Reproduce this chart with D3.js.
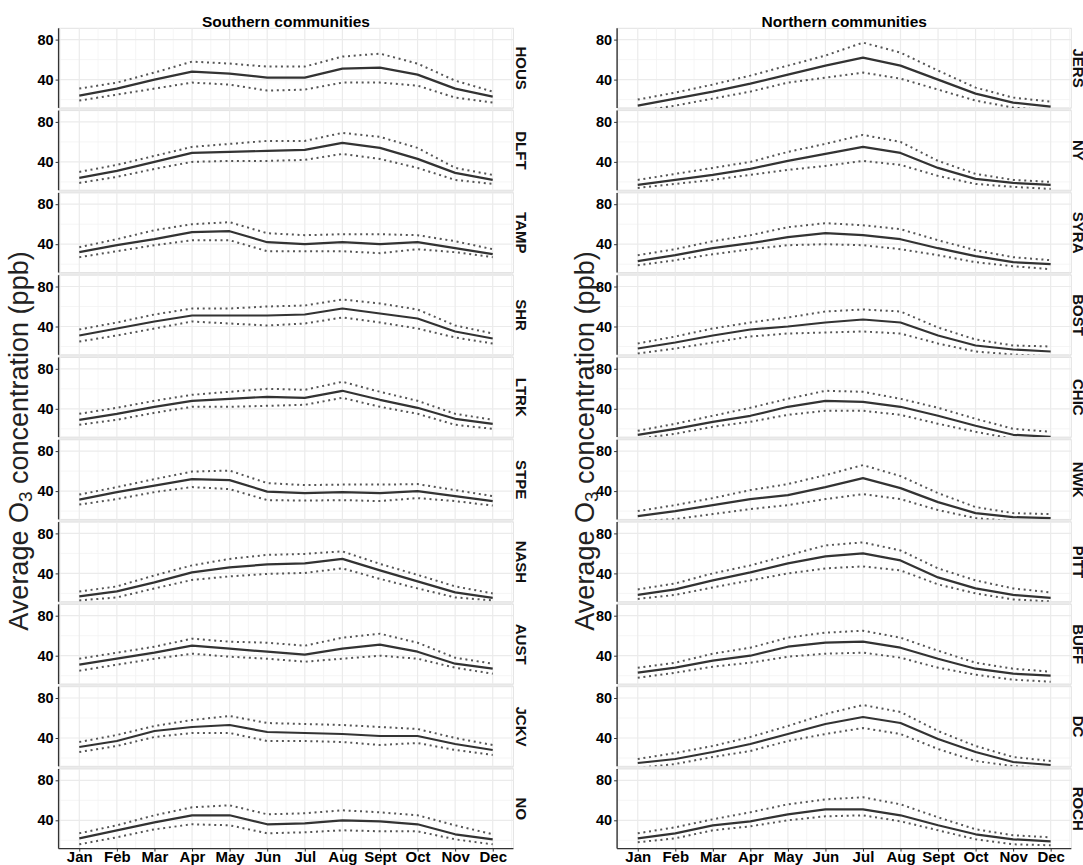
<!DOCTYPE html>
<html><head><meta charset="utf-8">
<script src="https://cdn.jsdelivr.net/npm/d3@7"></script>
<style>html,body{margin:0;padding:0;background:#fff;}svg{display:block;font-family:"Liberation Sans",Arial,sans-serif;}</style>
</head><body><svg id="chart" width="1083" height="865"></svg>
<script>
const months = ["Jan","Feb","Mar","Apr","May","Jun","Jul","Aug","Sept","Oct","Nov","Dec"];
const yTicks = [40, 80];
const southSites = ["HOUS","DLFT","TAMP","SHR","LTRK","STPE","NASH","AUST","JCKV","NO"];
const northSites = ["JERS","NY","SYRA","BOST","CHIC","NWK","PITT","BUFF","DC","ROCH"];
const columnTitles = ["Southern communities","Northern communities"];

// Southern communities: mean, upper and lower bounds (ppb)
const HOUS_mean = [24,31,40,48,46,42,42,51,52,45,31,23];
const HOUS_hi   = [31,37,47,58,56,53,53,63,66,56,39,28];
const HOUS_lo   = [19,25,31,37,35,29,30,37,37,34,22,17];
const DLFT_mean = [24,31,40,49,50,51,52,59,54,43,29,22];
const DLFT_hi   = [30,37,46,55,58,61,61,69,65,54,34,27];
const DLFT_lo   = [19,25,33,40,41,41,42,48,43,34,22,18];
const TAMP_mean = [32,39,45,52,53,42,40,42,40,42,36,30];
const TAMP_hi   = [37,45,54,60,62,51,49,50,50,49,43,35];
const TAMP_lo   = [27,33,39,44,44,33,33,33,31,35,32,27];
const SHR_mean  = [31,38,45,51,51,51,52,58,53,48,35,28];
const SHR_hi    = [37,44,52,58,58,60,61,67,63,57,41,33];
const SHR_lo    = [25,31,38,45,43,41,43,49,44,38,29,23];
const LTRK_mean = [29,35,42,48,50,52,51,58,49,41,30,25];
const LTRK_hi   = [35,41,48,54,57,60,59,67,57,48,35,29];
const LTRK_lo   = [24,29,36,42,42,43,44,51,42,35,24,20];
const STPE_mean = [31.5,39,45.5,52,51,39.5,38,39,38,40,35,30];
const STPE_hi   = [36.5,44,52,59.5,60.5,48,46,46.5,46.5,47,41,35];
const STPE_lo   = [26.5,32,39,44,42,31,30.5,31,30,33,30,25.5];
const NASH_mean = [17,22,31,41,46,49,50,54.5,43,32,21,15.5];
const NASH_hi   = [22,27,38,48,54.5,58.5,59.5,62,49.5,38.5,27,20];
const NASH_lo   = [13,16,25,33.5,37,39.5,40.5,45,34.5,25,16,13];
const AUST_mean = [31,37,43,50,47,44,41,47,51,44,32,27];
const AUST_hi   = [37,43,49,57,54,53,50,58,62,53,38,32];
const AUST_lo   = [25,31,37,42,39,37,34,37,40,37,28,22];
const JCKV_mean = [31,37,47,51,53,46,45,44,42,42,34,28];
const JCKV_hi   = [36,43,52,58,62,55,54,53,51,49,40,33];
const JCKV_lo   = [26,32,41,45,45,37,37,36,33,35,28,23];
const NO_mean   = [22,30,38,45,45,36,37,40,39,36,26,21];
const NO_hi     = [27,35,45,53,55,46,47,50,48,45,35,26];
const NO_lo     = [16,23,31,36,35,27,28,30,29,29,21,16];

// Northern communities
const JERS_mean = [14,21,28,36,45,54,62,54,40,26,17,13];
const JERS_hi   = [20,27,35,44,54,64,77,67,49,32,22,18];
const JERS_lo   = [8,14,21,28,37,42,47,41,30,19,12,9];
const NY_mean   = [17,22,27,33,41,48,55,49,34,23,19,17];
const NY_hi     = [22,28,34,40,50,58,67,60,41,28,22,20];
const NY_lo     = [14,18,22,27,32,36,41,37,26,18,15,13];
const SYRA_mean = [23,29,36,41,47,51,49,45,36,28,22,20];
const SYRA_hi   = [29,35,43,49,57,61,59,55,44,34,27,24];
const SYRA_lo   = [19,24,30,35,39,40,39,35,29,22,18,15];
const BOST_mean = [18,24,31,37,40,44,47,44,31,21,17,15];
const BOST_hi   = [23,30,38,44,49,55,57,55,39,27,21,20];
const BOST_lo   = [13,18,24,30,33,34,35,33,23,15,12,10];
const CHIC_mean = [14,20,27,33,42,48,47,42,33,23,14,12];
const CHIC_hi   = [18,25,33,41,50,58,57,50,41,30,20,17];
const CHIC_lo   = [10,15,22,27,34,38,38,34,25,17,10,8];
const NWK_mean  = [15,20,26,32,36,44,53,43,29,18,14,13];
const NWK_hi    = [20,26,33,41,47,56,66,55,38,24,18,17];
const NWK_lo    = [10,12,17,22,26,32,37,32,21,13,10,9];
const PITT_mean = [18.5,24,33,41,50,57,60,53,36,25,18.5,15.5];
const PITT_hi   = [24,30,40,48,58,68,71,63,45,33,25,21];
const PITT_lo   = [14.5,18.5,26,33,40,45,47,43,29,20,14,12];
const BUFF_mean = [23,28,35,40,49,53,54,48,37,27,22,20];
const BUFF_hi   = [28,33,42,48,58,63,65,58,45,33,27,24];
const BUFF_lo   = [18,23,29,33,39,42,43,38,28,21,16,14];
const DC_mean   = [15,19,26,34,44,54,61,55,39,26,16,13];
const DC_hi     = [19,25,32,41,52,64,73,66,47,32,21,17];
const DC_lo     = [10,14,21,27,37,44,50,44,29,17,12,9];
const ROCH_mean = [22,27,35,39,46,51,51,45,35,26,21,19];
const ROCH_hi   = [27,33,41,48,56,61,63,56,43,31,25,23];
const ROCH_lo   = [18,22,30,34,40,44,45,39,30,21,16,15];

const siteData = {
  HOUS:[HOUS_mean,HOUS_hi,HOUS_lo], DLFT:[DLFT_mean,DLFT_hi,DLFT_lo], TAMP:[TAMP_mean,TAMP_hi,TAMP_lo],
  SHR:[SHR_mean,SHR_hi,SHR_lo], LTRK:[LTRK_mean,LTRK_hi,LTRK_lo], STPE:[STPE_mean,STPE_hi,STPE_lo],
  NASH:[NASH_mean,NASH_hi,NASH_lo], AUST:[AUST_mean,AUST_hi,AUST_lo], JCKV:[JCKV_mean,JCKV_hi,JCKV_lo],
  NO:[NO_mean,NO_hi,NO_lo], JERS:[JERS_mean,JERS_hi,JERS_lo], NY:[NY_mean,NY_hi,NY_lo],
  SYRA:[SYRA_mean,SYRA_hi,SYRA_lo], BOST:[BOST_mean,BOST_hi,BOST_lo], CHIC:[CHIC_mean,CHIC_hi,CHIC_lo],
  NWK:[NWK_mean,NWK_hi,NWK_lo], PITT:[PITT_mean,PITT_hi,PITT_lo], BUFF:[BUFF_mean,BUFF_hi,BUFF_lo],
  DC:[DC_mean,DC_hi,DC_lo], ROCH:[ROCH_mean,ROCH_hi,ROCH_lo]
};

const svg = d3.select("#chart");
const columns = [
  {sites: southSites, left: 58.6, right: 513.4, stripX: 521, yTitleX: 19, title: columnTitles[0]},
  {sites: northSites, left: 617.1, right: 1071.3, stripX: 1078.5, yTitleX: 585, title: columnTitles[1]}
];
const top0 = 28.3, pitch = 82.3, panelH = 79.6;
const y = d3.scaleLinear().domain([11.7, 91.3]).range([panelH, 0]);

columns.forEach((col, ci) => {
  const W = col.right - col.left;
  const x = d3.scaleLinear().domain([0.45, 12.55]).range([0, W]);
  const g = svg.append("g").attr("transform", `translate(${col.left},0)`);

  g.append("rect").attr("x", 0).attr("y", top0).attr("width", W)
    .attr("height", pitch * 9 + panelH).attr("fill", "#ebebeb");

  col.sites.forEach((site, ri) => {
    const py = top0 + ri * pitch;
    const p = g.append("g").attr("transform", `translate(0,${py})`);
    const clipId = `clip-${ci}-${ri}`;
    p.append("clipPath").attr("id", clipId).append("rect")
      .attr("x", 0).attr("y", 0).attr("width", W).attr("height", panelH);
    p.append("rect").attr("width", W).attr("height", panelH)
      .attr("fill", "#fff").attr("stroke", "#e3e3e3").attr("stroke-width", 1);

    const minorX = d3.range(0.5, 13, 1);
    p.selectAll(".mgx").data(minorX).join("line")
      .attr("x1", d => x(d)).attr("x2", d => x(d)).attr("y1", 0).attr("y2", panelH)
      .attr("stroke", "#f2f2f2").attr("stroke-width", 0.8);
    p.selectAll(".mgy").data([20, 60]).join("line")
      .attr("x1", 0).attr("x2", W).attr("y1", d => y(d)).attr("y2", d => y(d))
      .attr("stroke", "#f2f2f2").attr("stroke-width", 0.8);
    p.selectAll(".gx").data(d3.range(1, 13)).join("line")
      .attr("x1", d => x(d)).attr("x2", d => x(d)).attr("y1", 0).attr("y2", panelH)
      .attr("stroke", "#ebebeb").attr("stroke-width", 1.2);
    p.selectAll(".gy").data(yTicks).join("line")
      .attr("x1", 0).attr("x2", W).attr("y1", d => y(d)).attr("y2", d => y(d))
      .attr("stroke", "#ebebeb").attr("stroke-width", 1.2);

    const [mean, hi, lo] = siteData[site];
    const line = d3.line().x((d, i) => x(i + 1)).y(d => y(d));
    const lines = p.append("g").attr("clip-path", `url(#${clipId})`);
    [hi, lo].forEach(arr => {
      lines.append("path").datum(arr).attr("d", line).attr("fill", "none")
        .attr("stroke", "#555").attr("stroke-width", 2)
        .attr("stroke-dasharray", "2,3.7");
    });
    lines.append("path").datum(mean).attr("d", line).attr("fill", "none")
      .attr("stroke", "#333").attr("stroke-width", 2.2).attr("stroke-linejoin", "round");

    const ya = p.append("g").call(d3.axisLeft(y).tickValues(yTicks).tickSize(3).tickPadding(2));
    ya.select(".domain").remove();
    ya.append("line").attr("x1", 0).attr("x2", 0).attr("y1", 0).attr("y2", panelH)
      .attr("stroke", "#333").attr("stroke-width", 1.4);
    ya.selectAll(".tick line").attr("stroke", "#333");
    ya.selectAll(".tick text").attr("fill", "#000").attr("font-size", 14.5)
      .attr("font-weight", "bold").attr("font-family", "Liberation Sans, Arial, sans-serif");

    svg.append("text")
      .attr("transform", `translate(${col.stripX},${py + panelH / 2}) rotate(90)`)
      .attr("text-anchor", "middle").attr("dominant-baseline", "central")
      .attr("font-size", 15).attr("font-weight", "bold").attr("fill", "#111")
      .text(site);

    if (ri === col.sites.length - 1) {
      const xa = p.append("g").attr("transform", `translate(0,${panelH})`)
        .call(d3.axisBottom(x).tickValues(d3.range(1, 13)).tickFormat(d => months[d - 1]).tickSize(3));
      xa.select(".domain").remove();
      xa.append("line").attr("x1", 0).attr("x2", W).attr("y1", 0).attr("y2", 0)
        .attr("stroke", "#333").attr("stroke-width", 1.4);
      xa.selectAll(".tick line").attr("stroke", "#333");
      xa.selectAll(".tick text").attr("fill", "#000").attr("font-size", 15)
        .attr("font-weight", "bold").attr("font-family", "Liberation Sans, Arial, sans-serif")
        .attr("y", 0).attr("dy", "0").attr("transform", "translate(0,13.6)");
    }
  });

  svg.append("text").attr("x", col.left + W / 2).attr("y", 26.5)
    .attr("text-anchor", "middle").attr("font-size", 15.5).attr("font-weight", "bold")
    .attr("fill", "#000").text(col.title);

  const yt = svg.append("text")
    .attr("transform", `translate(${col.yTitleX},441) rotate(-90)`)
    .attr("text-anchor", "middle").attr("dominant-baseline", "central")
    .attr("font-size", 27).attr("fill", "#222");
  yt.append("tspan").text("Average O");
  yt.append("tspan").attr("font-size", 19).attr("dy", 6).text("3");
  yt.append("tspan").attr("dy", -6).text(" concentration (ppb)");
});
</script></body></html>
